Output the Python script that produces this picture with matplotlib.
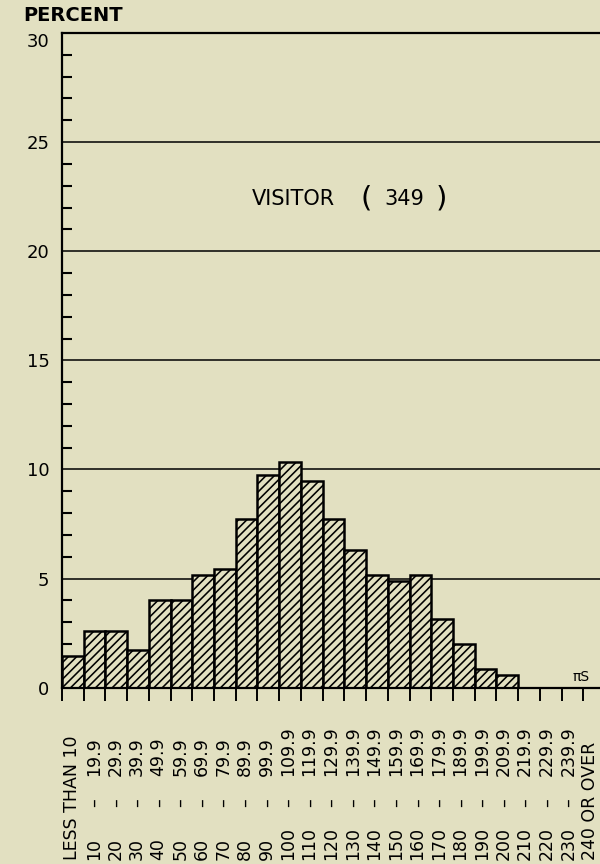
import matplotlib
matplotlib.use("Agg")
import matplotlib.pyplot as plt
from matplotlib.transforms import blended_transform_factory

plt.rcParams['font.family'] = ['DejaVu Sans']
plt.rcParams['hatch.linewidth'] = 1.15

# ---- data ----
categories = ["LESS THAN 10", "10 – 19.9", "20 – 29.9", "30 – 39.9", "40 – 49.9",
              "50 – 59.9", "60 – 69.9", "70 – 79.9", "80 – 89.9", "90 – 99.9",
              "100 – 109.9", "110 – 119.9", "120 – 129.9", "130 – 139.9",
              "140 – 149.9", "150 – 159.9", "160 – 169.9", "170 – 179.9",
              "180 – 189.9", "190 – 199.9", "200 – 209.9", "210 – 219.9",
              "220 – 229.9", "230 – 239.9", "240 OR OVER"]
percent = [1.43, 2.58, 2.58, 1.72, 4.01, 4.01, 5.16, 5.44, 7.74, 9.74, 10.32,
           9.46, 7.74, 6.30, 5.16, 4.87, 5.16, 3.15, 2.01, 0.86, 0.57, 0, 0, 0, 0]
yticks = [0, 5, 10, 15, 20, 25]
ytick_labels = ["0", "5", "10", "15", "20", "25"]
ytop = 30
ytop_label = "30"
ylabel = "PERCENT"
title_word = "VISITOR"
title_n = "349"
signature = "πS"

bg = "#e2e0c1"
W, H = 600, 864

fig = plt.figure(figsize=(W / 100, H / 100), dpi=100, facecolor=bg)
x0, y0px, ytoppx, bw = 62, 687.7, 33, 21.72
ax = fig.add_axes([x0 / W, 1 - y0px / H, len(categories) * bw / W, (y0px - ytoppx) / H])
ax.set_facecolor(bg)
ax.set_xlim(0, len(categories))
ax.set_ylim(0, ytop)

# grid lines
for g in yticks[1:]:
    ax.axhline(g, color="black", lw=1.1, zorder=1)

# bars
xs = [i + 0.5 for i in range(len(categories))]
ax.bar(xs, percent, width=1.0, color=bg, edgecolor="black", hatch="////",
       linewidth=1.8, zorder=2)

# spines
for s in ["left", "bottom", "top"]:
    ax.spines[s].set_linewidth(1.6)
    ax.spines[s].set_color("black")
ax.spines["right"].set_visible(False)

# y ticks
ax.set_yticks(yticks)
ax.set_yticklabels(ytick_labels, fontsize=13)
ax.set_yticks([v for v in range(ytop) if v % 5 != 0], minor=True)
ax.tick_params(axis="y", which="major", length=0, pad=9)
ax.tick_params(axis="y", which="minor", direction="in", length=7, width=1.5)
ax.annotate(ytop_label, xy=(0, ytop), xycoords=("axes fraction", "data"),
            xytext=(-9, -6.5), textcoords="offset points", ha="right",
            va="center", fontsize=13)

# x ticks at bin boundaries
ax.set_xticks(range(len(categories) + 1))
ax.set_xticklabels([])
ax.tick_params(axis="x", which="major", direction="out", length=9, width=1.4)

# category labels (vertical); the lettered labels run slightly tighter than the bins
tr = blended_transform_factory(ax.transData, fig.transFigure)
y_bottom = 1 - 860 / H
y_dash = 1 - 803 / H
y_upper = 1 - 776 / H
lab_step = 21.56 / bw
fs = 12.5
for i, lab in enumerate(categories):
    x = 0.48 + i * lab_step
    if " – " in lab:
        lo, hi = lab.split(" – ")
        fig.text(x, y_bottom, lo, transform=tr, rotation=90, rotation_mode="anchor",
                 ha="left", va="center", fontsize=fs)
        fig.text(x, y_dash, "–", transform=tr, rotation=90, rotation_mode="anchor",
                 ha="center", va="center", fontsize=fs)
        fig.text(x, y_upper, hi, transform=tr, rotation=90, rotation_mode="anchor",
                 ha="left", va="center", fontsize=fs)
    else:
        fig.text(x, y_bottom, lab, transform=tr, rotation=90, rotation_mode="anchor",
                 ha="left", va="center", fontsize=fs)

# y axis label
fig.text(23 / W, 1 - 15.5 / H, ylabel, ha="left", va="center", fontsize=14,
         fontweight="bold")

# title inside plot
fig.text(293 / W, 1 - 199 / H, title_word, ha="center", va="center", fontsize=15)
fig.text(366 / W, 1 - 198 / H, "(", ha="center", va="center", fontsize=21)
fig.text(404 / W, 1 - 199 / H, title_n, ha="center", va="center", fontsize=15)
fig.text(441 / W, 1 - 198 / H, ")", ha="center", va="center", fontsize=21)

# signature mark
fig.text(581 / W, 1 - 677 / H, signature, ha="center", va="center", fontsize=10)

fig.savefig("out.png", dpi=100, facecolor=bg)
